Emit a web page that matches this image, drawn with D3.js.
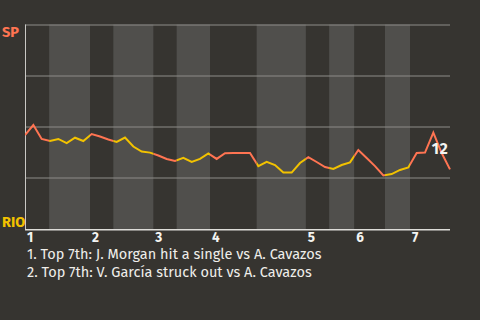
<!DOCTYPE html>
<html>
<head>
<meta charset="utf-8">
<script src="https://cdn.jsdelivr.net/npm/d3@7"></script>
<style>
    html, body { margin: 0; padding: 0; background: #363430; }
    svg { display: block; }
</style>
</head>
<body>
<div id="demo"></div>
<script>
// SP win probability (%) after each event.
const winProb = [45.8, 50.7, 43.9, 42.9, 43.9, 41.9, 44.5, 42.9, 46.3, 45.1,
                 43.6, 42.4, 44.6, 40.2, 37.7, 37.2, 35.8, 34.1, 33.1, 34.6,
                 32.6, 34.1, 36.8, 34.1, 36.9, 37.0, 37.0, 37.0, 30.6, 32.7,
                 31.1, 27.4, 27.4, 32.1, 35.0, 32.6, 30.1, 29.2, 31.1, 32.4,
                 38.5, 34.6, 30.6, 26.0, 26.7, 28.7, 29.9, 37.0, 37.2, 47.0,
                 37.0, 29.0];

// Where each inning starts and where its bottom half starts (event units).
const innings = ["1", "2", "3", "4", "5", "6", "7"];
const inningStart = [0, 7.8, 15.4, 22.2, 33.7, 39.5, 46.2];
const bottomStart = [2.9, 10.6, 18.2, 27.8, 36.5, 43.2];

// Annotated events.
const noteIndex = [49, 50];
const noteText = ["Top 7th: J. Morgan hit a single vs A. Cavazos",
                  "Top 7th: V. García struck out vs A. Cavazos"];

const teams = ["SP", "RIO"];
const teamColors = ["#ff7452", "#f2c200"];

const w = 480;
const h = 320;
const m = { top: 24.5, right: 30, bottom: 91.5, left: 25 };
const font = "'Fira Sans', 'Open Sans', sans-serif";

const svg = d3.select("#demo")
    .append("svg")
    .attr("width", w)
    .attr("height", h);

svg.append("rect").attr("width", w).attr("height", h).attr("fill", "#363430");

const xScale = d3.scaleLinear()
    .domain([0, winProb.length - 1])
    .range([m.left, w - m.right]);

const yScale = d3.scaleLinear()
    .domain([0, 100])
    .range([h - m.bottom, m.top]);

const lastX = winProb.length - 1;

// Half-inning spans: tops are dark, bottoms are shaded.
const tops = inningStart.map((s, i) => [s, i < bottomStart.length ? bottomStart[i] : lastX]);
const bottoms = bottomStart.map((s, i) => [s, inningStart[i + 1]]);

svg.append("g")
    .selectAll("rect")
    .data(bottoms)
    .enter()
    .append("rect")
    .attr("x", d => xScale(d[0]))
    .attr("width", d => xScale(d[1]) - xScale(d[0]))
    .attr("y", yScale(100))
    .attr("height", yScale(0) - yScale(100) + 1)
    .attr("fill", "#504f4c");

// Grid lines.
const yAxis = d3.axisLeft(yScale)
    .tickValues([25, 50, 75, 100])
    .tickSize(-(w - m.left - m.right))
    .tickFormat("");

svg.append("g")
    .attr("transform", "translate(" + m.left + ",0)")
    .call(yAxis)
    .call(g => g.select(".domain").remove())
    .call(g => g.selectAll("line").attr("stroke", "#8d8c88").attr("stroke-width", 1));

// Left and bottom edges.
svg.append("line")
    .attr("x1", m.left + 0.5).attr("x2", m.left + 0.5)
    .attr("y1", yScale(100)).attr("y2", yScale(0) + 1.5)
    .attr("stroke", "#c9c8c4");

svg.append("line")
    .attr("x1", m.left).attr("x2", w - m.right)
    .attr("y1", yScale(0) + 1.3).attr("y2", yScale(0) + 1.3)
    .attr("stroke", "#dddcd8").attr("stroke-width", 1.5);

// Inning labels.
svg.append("g")
    .selectAll("text")
    .data(innings)
    .enter()
    .append("text")
    .attr("x", (d, i) => xScale(inningStart[i]) + 2)
    .attr("y", 242)
    .attr("font-family", font)
    .attr("font-weight", "bold")
    .attr("font-size", 13.5)
    .attr("fill", "#f4f4f2")
    .text(d => d);

// Team labels.
svg.append("text")
    .attr("x", 2).attr("y", 37)
    .attr("font-family", font)
    .attr("font-weight", "bold").attr("font-size", 14.5)
    .attr("fill", teamColors[0])
    .text(teams[0]);

svg.append("text")
    .attr("x", 2).attr("y", 227)
    .attr("font-family", font)
    .attr("font-weight", "bold").attr("font-size", 14.5)
    .attr("fill", teamColors[1])
    .text(teams[1]);

// Clip paths so the line takes the colour of the half inning.
const defs = svg.append("defs");
[tops, bottoms].forEach((spans, k) => {
    defs.append("clipPath")
        .attr("id", "clip" + k)
        .selectAll("rect")
        .data(spans)
        .enter()
        .append("rect")
        .attr("x", d => xScale(d[0]))
        .attr("width", d => xScale(d[1]) - xScale(d[0]) + (d[1] === lastX ? 3 : 0))
        .attr("y", 0)
        .attr("height", h);
});

const line = d3.line()
    .x((d, i) => xScale(i))
    .y(d => yScale(d));

[0, 1].forEach(k => {
    svg.append("path")
        .datum(winProb)
        .attr("d", line)
        .attr("fill", "none")
        .attr("stroke", teamColors[k])
        .attr("stroke-width", 2)
        .attr("clip-path", "url(#clip" + k + ")");
});

// Note markers next to the events.
const noteY = d3.mean(noteIndex, i => yScale(winProb[i])) + 11.5;
svg.append("g")
    .selectAll("text")
    .data(noteIndex)
    .enter()
    .append("text")
    .attr("x", d => xScale(d) + 2)
    .attr("y", noteY)
    .attr("text-anchor", "middle")
    .attr("font-family", font)
    .attr("font-weight", "bold")
    .attr("font-size", 15.5)
    .attr("fill", "#f4f4f2")
    .text((d, i) => i + 1);

// Note texts under the chart.
svg.append("g")
    .selectAll("text")
    .data(noteText)
    .enter()
    .append("text")
    .attr("x", 27)
    .attr("y", (d, i) => 259 + i * 18)
    .attr("font-family", font)
    .attr("font-size", 14.5)
    .attr("fill", "#efeeea")
    .text((d, i) => (i + 1) + ". " + d);
</script>
</body>
</html>
